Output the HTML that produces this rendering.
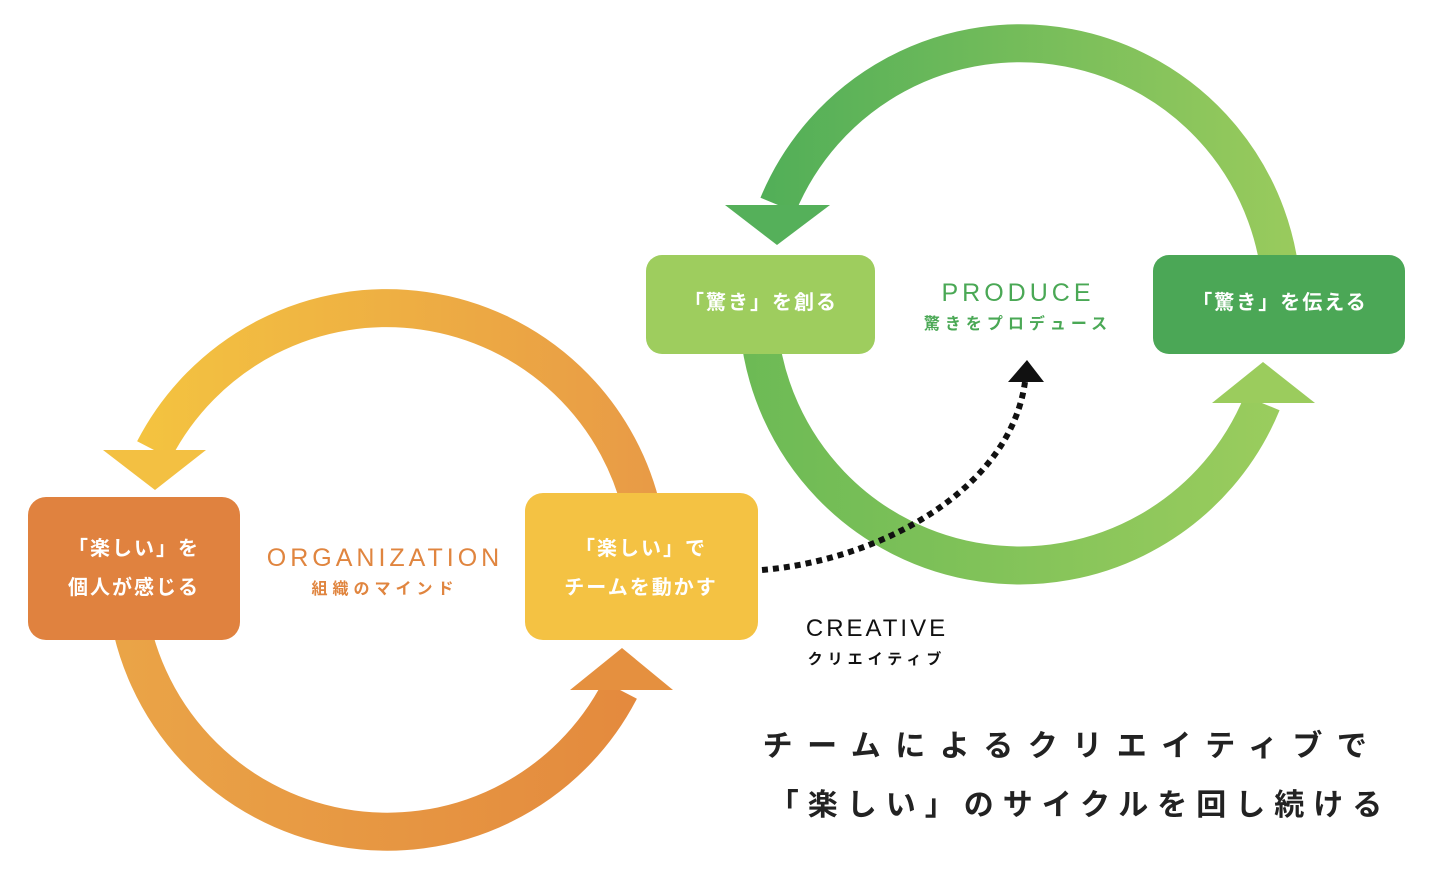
<!DOCTYPE html>
<html><head><meta charset="utf-8"><style>
html,body{margin:0;padding:0;background:#fff;width:1440px;height:874px;overflow:hidden}
svg{display:block}
text{font-family:"Liberation Sans","Noto Sans CJK JP",sans-serif}
</style></head><body>
<svg width="1440" height="874" viewBox="0 0 1440 874">
<defs>
<linearGradient id="ot" x1="130" y1="0" x2="660" y2="0" gradientUnits="userSpaceOnUse"><stop offset="0" stop-color="#f4c440"/><stop offset="1" stop-color="#e89a46"/></linearGradient>
<linearGradient id="ob" x1="120" y1="0" x2="670" y2="0" gradientUnits="userSpaceOnUse"><stop offset="0" stop-color="#eaa447"/><stop offset="1" stop-color="#e3883d"/></linearGradient>
<linearGradient id="gt" x1="750" y1="0" x2="1300" y2="0" gradientUnits="userSpaceOnUse"><stop offset="0" stop-color="#50ae58"/><stop offset="1" stop-color="#9acb5d"/></linearGradient>
<linearGradient id="gb" x1="740" y1="0" x2="1300" y2="0" gradientUnits="userSpaceOnUse"><stop offset="0" stop-color="#6cba55"/><stop offset="1" stop-color="#9ccd5e"/></linearGradient>
</defs>
<path d="M154,450 A262,262 0 0 1 644,520" fill="none" stroke="url(#ot)" stroke-width="38"/>
<path d="M127,600 A262,262 0 0 0 620,690" fill="none" stroke="url(#ob)" stroke-width="38"/>
<polygon points="103,450 206,450 155,490" fill="#f3c042"/>
<polygon points="570,690 673,690 622,648" fill="#e5903f"/>
<path d="M778,205 A262,262 0 0 1 1282,300" fill="none" stroke="url(#gt)" stroke-width="38"/>
<path d="M759,330 A262,262 0 0 0 1262,403" fill="none" stroke="url(#gb)" stroke-width="38"/>
<polygon points="725,205 830,205 777,245" fill="#55b05a"/>
<polygon points="1212,403 1315,403 1263,362" fill="#9bcc5d"/>
<rect x="28" y="497" width="212" height="143" rx="18" fill="#e0823f"/>
<rect x="525" y="493" width="233" height="147" rx="18" fill="#f4c243"/>
<rect x="646" y="255" width="229" height="99" rx="16" fill="#9ecd5e"/>
<rect x="1153" y="255" width="252" height="99" rx="16" fill="#4ba756"/>
<g fill="#fff" font-weight="bold" font-size="20" text-anchor="middle">
<text x="134" y="555" letter-spacing="2">「楽しい」を</text>
<text x="134" y="594" letter-spacing="2">個人が感じる</text>
<text x="641" y="555" letter-spacing="2">「楽しい」で</text>
<text x="641" y="594" letter-spacing="2">チームを動かす</text>
<text x="761" y="309" letter-spacing="2">「驚き」を創る</text>
<text x="1280" y="309" letter-spacing="2">「驚き」を伝える</text>
</g>
<text x="385" y="566" font-size="25" fill="#e0853f" text-anchor="middle" letter-spacing="4">ORGANIZATION</text>
<text x="385" y="594" font-size="16" font-weight="bold" fill="#e0853f" text-anchor="middle" letter-spacing="5">組織のマインド</text>
<text x="1018" y="301" font-size="25" fill="#4aa855" text-anchor="middle" letter-spacing="4">PRODUCE</text>
<text x="1018" y="329" font-size="16" font-weight="bold" fill="#4aa855" text-anchor="middle" letter-spacing="5">驚きをプロデュース</text>
<text x="877" y="636" font-size="24" fill="#111" text-anchor="middle" letter-spacing="3">CREATIVE</text>
<text x="877" y="664" font-size="15" font-weight="bold" fill="#111" text-anchor="middle" letter-spacing="5">クリエイティブ</text>
<path d="M762,570 C880,560 1010,490 1025,382" fill="none" stroke="#111" stroke-width="6" stroke-dasharray="6,5"/>
<polygon points="1027,360 1008,382 1044,382" fill="#111"/>
<g font-size="30" font-weight="bold" fill="#222" text-anchor="middle">
<text x="1072" y="756" letter-spacing="14.5">チームによるクリエイティブで</text>
<text x="1080" y="815" letter-spacing="9">「楽しい」のサイクルを回し続ける</text>
</g>
</svg>
</body></html>
